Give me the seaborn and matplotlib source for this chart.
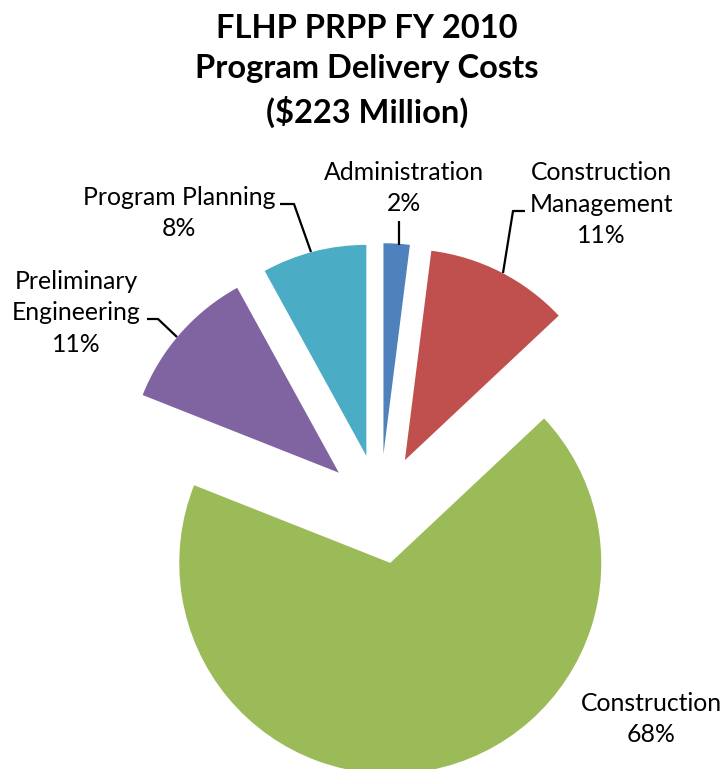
import matplotlib
matplotlib.use('Agg')
import matplotlib.pyplot as plt
import seaborn as sns

# Data
categories = ['Administration', 'Construction\nManagement', 'Construction',
              'Preliminary\nEngineering', 'Program Planning']
shares = [2, 11, 68, 11, 8]
colors = ['#4F81BD', '#C0504D', '#9BBB59', '#8064A2', '#4BACC6']

sns.set_theme(style='white')
plt.rcParams['font.family'] = ['Lato', 'DejaVu Sans']

W, H = 721, 769
fig = plt.figure(figsize=(W / 100, H / 100), dpi=100)
ax = fig.add_axes([0, 0, 1, 1])

# pie centre and radius in pixels
cx, cy, r = 380, 509, 211


def to_data(px, py):
    return (px - cx) / r, (cy - py) / r


ax.pie(shares, colors=sns.color_palette(colors), explode=[0.26] * len(shares),
       startangle=90, counterclock=False, radius=1,
       wedgeprops=dict(linewidth=0))

ax.set_aspect('auto')
ax.set_xlim(-cx / r, (W - cx) / r)
ax.set_ylim(-(H - cy) / r, cy / r)
ax.axis('off')

# label positions (pixels) and leader lines
label_pos = {
    'Administration': (404, 188),
    'Construction\nManagement': (601, 204),
    'Construction': (651, 719),
    'Preliminary\nEngineering': (76, 313),
    'Program Planning': (179, 213),
}
leaders = {
    'Administration': [(399, 221), (399, 245)],
    'Construction\nManagement': [(525, 211), (513, 211), (503, 273)],
    'Preliminary\nEngineering': [(147, 319), (158, 319), (177, 337)],
    'Program Planning': [(280, 204), (294, 204), (311, 252)],
}

for cat, val in zip(categories, shares):
    x, y = to_data(*label_pos[cat])
    ax.text(x, y, f'{cat}\n{val}%', ha='center', va='center',
            multialignment='center', fontsize=17.8, linespacing=1.47,
            color='black')
    if cat in leaders:
        pts = [to_data(px, py) for px, py in leaders[cat]]
        ax.plot([p[0] for p in pts], [p[1] for p in pts], color='black',
                lw=1.6, solid_capstyle='butt')

fig.text(367 / W, 1 - 71 / H,
         'FLHP PRPP FY 2010\nProgram Delivery Costs\n($223 Million)',
         ha='center', va='center', fontsize=23.5, fontweight='bold',
         linespacing=1.45, color='black')

fig.savefig('out.png', dpi=100)
